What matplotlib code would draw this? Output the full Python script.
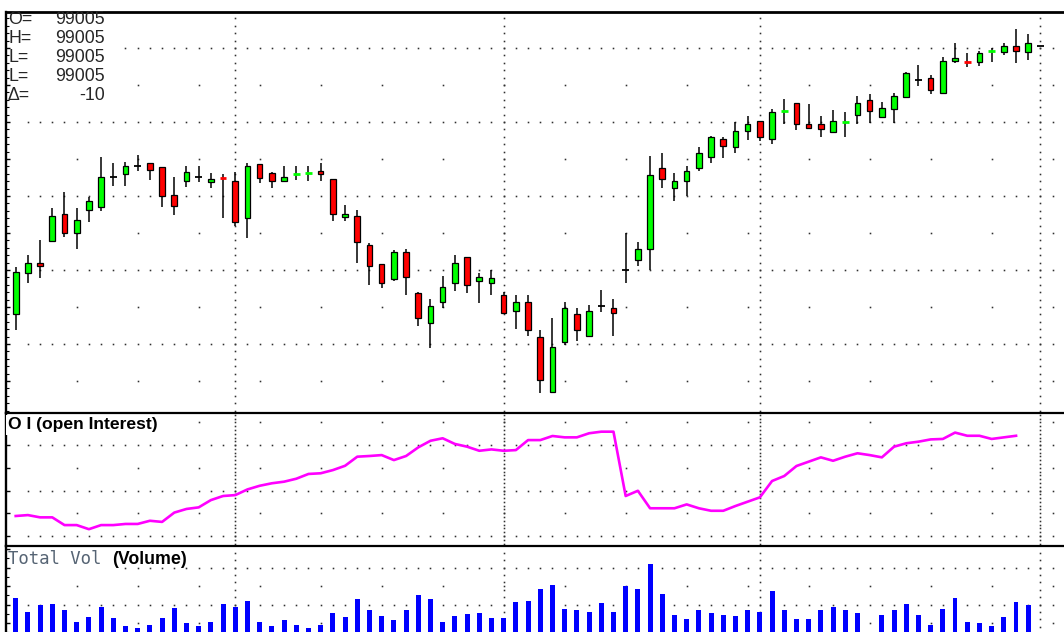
import matplotlib
matplotlib.use('Agg')
import matplotlib.pyplot as plt
from matplotlib.patches import Rectangle
import numpy as np

W, H = 1064, 632

# daily OHLC
opens = [98928.1, 98939.1, 98942.0, 98947.9, 98955.1, 98949.9, 98956.1, 98957.0, 98965.0, 98966.0,
         98968.2, 98968.9, 98967.8, 98960.3, 98964.1, 98965.0, 98963.7, 98964.9, 98964.1, 98954.1,
         98968.6, 98966.1, 98964.1, 98965.9, 98966.2, 98966.8, 98964.5, 98954.2, 98954.6, 98946.8,
         98941.6, 98937.6, 98944.8, 98933.7, 98925.8, 98931.3, 98936.4, 98943.6, 98937.1, 98936.4,
         98933.2, 98928.9, 98931.3, 98921.8, 98907.1, 98920.6, 98928.1, 98922.2, 98930.3, 98929.8,
         98940.0, 98942.7, 98945.6, 98967.7, 98962.1, 98964.1, 98967.6, 98970.5, 98975.3, 98973.2,
         98977.6, 98980.4, 98975.3, 98982.9, 98985.1, 98979.5, 98979.5, 98977.4, 98980.0, 98981.9,
         98985.9, 98981.4, 98983.4, 98986.8, 98991.4, 98991.8, 98987.8, 98996.5, 98996.4, 98996.1,
         98999.1, 98998.8, 99000.5, 98998.8, 99000.5]
highs = [98940.7, 98944.1, 98948.1, 98956.8, 98961.2, 98956.8, 98959.8, 98970.6, 98969.0, 98969.1,
         98971.1, 98968.9, 98967.8, 98965.1, 98968.2, 98968.2, 98966.1, 98966.0, 98966.6, 98969.0,
         98968.6, 98966.6, 98968.2, 98968.2, 98968.2, 98968.8, 98964.5, 98957.6, 98956.2, 98947.2,
         98941.6, 98945.4, 98945.6, 98934.1, 98932.2, 98938.5, 98944.1, 98943.6, 98939.3, 98940.0,
         98934.1, 98933.2, 98933.2, 98923.8, 98927.1, 98931.4, 98929.8, 98930.5, 98934.6, 98932.2,
         98950.1, 98947.6, 98970.9, 98971.7, 98966.1, 98968.2, 98973.3, 98976.2, 98975.9, 98980.1,
         98981.6, 98980.4, 98983.5, 98986.1, 98985.1, 98984.8, 98981.6, 98983.2, 98982.8, 98987.1,
         98987.5, 98985.5, 98987.9, 98993.6, 98995.4, 98992.7, 98997.5, 99001.4, 98998.6, 98999.2,
         99000.1, 99001.4, 99005.1, 99003.8, 99000.5]
lows = [98923.8, 98936.4, 98937.9, 98947.9, 98949.0, 98945.8, 98953.0, 98956.0, 98962.8, 98962.8,
        98966.8, 98964.3, 98957.0, 98954.9, 98962.4, 98963.7, 98962.1, 98954.0, 98952.0, 98948.6,
        98963.6, 98962.1, 98964.1, 98964.3, 98964.1, 98964.1, 98953.3, 98953.3, 98941.8, 98935.9,
        98935.2, 98937.1, 98933.2, 98924.9, 98919.0, 98929.6, 98934.4, 98933.9, 98931.2, 98933.2,
        98928.1, 98924.0, 98922.2, 98906.7, 98907.1, 98919.7, 98920.9, 98921.8, 98928.7, 98922.2,
        98936.4, 98941.1, 98940.0, 98962.1, 98958.6, 98960.0, 98966.8, 98968.8, 98970.4, 98971.5,
        98975.1, 98974.9, 98974.0, 98979.4, 98977.8, 98978.3, 98975.9, 98977.1, 98975.9, 98979.4,
        98979.8, 98981.0, 98979.8, 98986.6, 98989.7, 98987.6, 98987.8, 98996.0, 98994.8, 98995.1,
        98996.3, 98998.1, 98996.0, 98996.8, 99000.5]
closes = [98939.5, 98942.0, 98941.2, 98954.7, 98949.9, 98953.5, 98958.6, 98965.0, 98965.0, 98968.2,
          98968.2, 98967.0, 98960.1, 98957.3, 98966.6, 98965.0, 98964.6, 98964.7, 98953.1, 98968.1,
          98964.8, 98964.1, 98965.0, 98966.1, 98966.4, 98966.0, 98955.1, 98955.1, 98947.5, 98941.2,
          98936.4, 98944.8, 98938.0, 98927.0, 98930.2, 98935.3, 98942.0, 98935.9, 98938.0, 98937.8,
          98928.5, 98931.3, 98923.8, 98910.3, 98919.1, 98929.6, 98923.8, 98929.0, 98930.3, 98928.5,
          98940.0, 98945.6, 98965.7, 98964.5, 98964.1, 98966.8, 98971.7, 98976.0, 98973.6, 98977.6,
          98979.5, 98975.9, 98982.6, 98983.1, 98979.5, 98978.3, 98978.0, 98980.4, 98980.2, 98985.1,
          98983.1, 98983.9, 98987.1, 98993.2, 98991.4, 98988.6, 98996.6, 98997.4, 98996.2, 98998.6,
          98999.3, 99000.5, 98999.2, 99001.4, 99000.5]

open_interest = [50880, 50920, 50820, 50820, 50480, 50480, 50300, 50480, 50480, 50530,
                 50530, 50670, 50620, 51030, 51190, 51260, 51580, 51760, 51800, 52050,
                 52210, 52320, 52390, 52520, 52730, 52760, 52900, 53090, 53490, 53520,
                 53560, 53340, 53520, 53900, 54190, 54300, 54050, 53930, 53750, 53810,
                 53750, 53780, 54220, 54220, 54400, 54340, 54340, 54520, 54590, 54590,
                 51760, 51990, 51220, 51220, 51220, 51390, 51220, 51110, 51110, 51320,
                 51510, 51700, 52420, 52640, 53080, 53270, 53460, 53310, 53490, 53640,
                 53560, 53460, 53930, 54080, 54150, 54250, 54270, 54550, 54410, 54410,
                 54270, 54340, 54410]

volume = [23760, 15880, 19550, 20470, 17330, 10750, 13280, 18790, 12580, 8530,
          7610, 9130, 12580, 18090, 10040, 8530, 10750, 20470, 18790, 22140,
          10750, 8530, 11660, 9130, 7610, 9130, 15710, 13280, 23000, 17330,
          14040, 11660, 17330, 25220, 23000, 10750, 14040, 14960, 15710, 12580,
          12580, 21380, 22140, 28350, 30730, 17870, 17170, 16250, 21010, 16250,
          29810, 28350, 42070, 25970, 14580, 12420, 17170, 15500, 14580, 13880,
          17170, 16250, 27590, 17170, 12420, 12420, 17170, 18790, 17170, 15500,
          0, 14580, 17170, 20470, 14580, 9130, 17870, 23600, 10750, 9830,
          8210, 13120, 21220, 19550]

month_breaks = [18, 40, 61, 84]

fig = plt.figure(figsize=(W / 100, H / 100), dpi=100)


def box(top, bottom):
    return [6 / W, 1 - bottom / H, 1 - 6 / W, (bottom - top) / H]


ax_p = fig.add_axes(box(12, 412.7))
ax_oi = fig.add_axes(box(412.7, 546))
ax_v = fig.add_axes(box(546, 641.6))

xlim = (-0.795, 85.93)
ax_p.set_ylim(98901.43, 99009.73)
ax_oi.set_ylim(49560, 55425)
ax_v.set_ylim(0, 51620)

dot_kw = dict(ls='none', marker='s', ms=1.15, mew=0, color='#303030', zorder=1)


def dots(ax, dense, sparse, vstep, vstart):
    xd = np.arange(1, 86)
    xs = np.arange(5, 86, 5)
    for lv in dense:
        ax.plot(xd, np.full(len(xd), lv), **dot_kw)
    for lv in sparse:
        ax.plot(xs, np.full(len(xs), lv), **dot_kw)
    lo, hi = ax.get_ylim()
    vy = np.arange(vstart, hi, vstep)
    vy = vy[vy > lo]
    for b in month_breaks:
        ax.plot(np.full(len(vy), b), vy, **dot_kw)


dots(ax_p, [98920, 98940, 98960, 98980, 99000], [98910, 98930, 98950, 98970, 98990], 2, 98900)
dots(ax_oi, [50000, 52000, 54000], [51000, 53000, 55000], 1000 / 6, 49500)
dots(ax_v, [20000, 40000], [10000, 30000], 4000, 0)

# candles
o = np.array(opens)
h = np.array(highs)
l = np.array(lows)
c = np.array(closes)
x = np.arange(len(o))
up = c > o
fill = np.where(up, '#00ff00', '#ff0000')
diff = np.abs(c - o)
wick = h > l
ax_p.vlines(x[wick], l[wick], h[wick], color='black', lw=1.1, zorder=2)
body = diff >= 0.5
ax_p.bar(x[body], diff[body], bottom=np.minimum(o, c)[body], width=0.46,
         color=fill[body], edgecolor='black', linewidth=0.9, zorder=3)
tiny = (diff > 0) & (diff < 0.5)
for xi, yi, fc in zip(x[tiny], ((o + c) / 2)[tiny], fill[tiny]):
    ax_p.hlines(yi, xi - 0.27, xi + 0.27, color=fc, lw=2.0, zorder=3)
doji = diff == 0
ax_p.hlines(o[doji], x[doji] - 0.27, x[doji] + 0.27, color='black', lw=1.3, zorder=3)

# open interest
ax_oi.plot(np.arange(len(open_interest)), open_interest, color='#ff00ff', lw=1.9, zorder=3)

# volume
ax_v.bar(np.arange(len(volume)), volume, width=0.4, color='#0000ff', zorder=3)

for ax in (ax_p, ax_oi, ax_v):
    ax.set_xlim(*xlim)
    ax.spines['right'].set_visible(False)
    ax.spines['top'].set_visible(False)
    ax.spines['left'].set_linewidth(1.7)
    ax.spines['bottom'].set_linewidth(1.6)
    ax.set_xticks([])
    ax.tick_params(axis='y', which='both', direction='in', labelleft=False, color='black')
    ax.tick_params(axis='y', which='major', length=3.2, width=1.0)
    ax.tick_params(axis='y', which='minor', length=1.8, width=0.8)
    ax.patch.set_alpha(0)
ax_p.spines['top'].set_visible(True)
ax_p.spines['top'].set_linewidth(2.0)
ax_v.spines['bottom'].set_visible(False)

ax_p.set_yticks(np.arange(98910, 99010, 10))
ax_p.set_yticks(np.arange(98902, 99010, 2), minor=True)
ax_oi.set_yticks(np.arange(50000, 55001, 1000))
ax_v.set_yticks(np.arange(10000, 50001, 10000))
ax_v.set_yticks(np.arange(5000, 50001, 5000), minor=True)


def fx(px):
    return px / W


def fy(py):
    return 1 - py / H


# quote box in the corner
ax_p.add_patch(Rectangle((fx(7.5), fy(104)), fx(111.5), 90.5 / H, transform=fig.transFigure,
                         fc='white', ec='none', zorder=1.5))
quote_labels = ['O=', 'H=', 'L=', 'L=', 'Δ=']
quote_values = ['99005', '99005', '99005', '99005', '-10']
for k, (lab, val) in enumerate(zip(quote_labels, quote_values)):
    yy = fy(20 + 18.8 * k)
    ax_p.text(fx(8), yy, lab, transform=fig.transFigure, ha='left', va='center',
              fontsize=12.8, family='Liberation Sans', color='#262626', zorder=4)
    ax_p.text(fx(104.5), yy, val, transform=fig.transFigure, ha='right', va='center',
              fontsize=12.8, family='Liberation Sans', color='#262626', zorder=4)

ax_oi.text(fx(8), fy(425), 'O I (open Interest)', transform=fig.transFigure, ha='left', va='center',
           fontsize=12.6, family='Liberation Sans', fontweight='bold', color='black', zorder=4,
           bbox=dict(fc='white', ec='none', pad=1.5))

ax_v.add_patch(Rectangle((fx(7.5), fy(572)), fx(111.5), 24.5 / H, transform=fig.transFigure,
                         fc='white', ec='none', zorder=1.5))
ax_v.text(fx(8.5), fy(559), 'Total Vol', transform=fig.transFigure, ha='left', va='center',
          fontsize=12.4, family='DejaVu Sans Mono', color='#566474', zorder=4)
ax_v.text(fx(112), fy(559), '(Volume)', transform=fig.transFigure, ha='left', va='center',
          fontsize=12.8, family='Liberation Sans', fontweight='bold', color='black', zorder=4)

fig.savefig('out.png', dpi=100, facecolor='white')
